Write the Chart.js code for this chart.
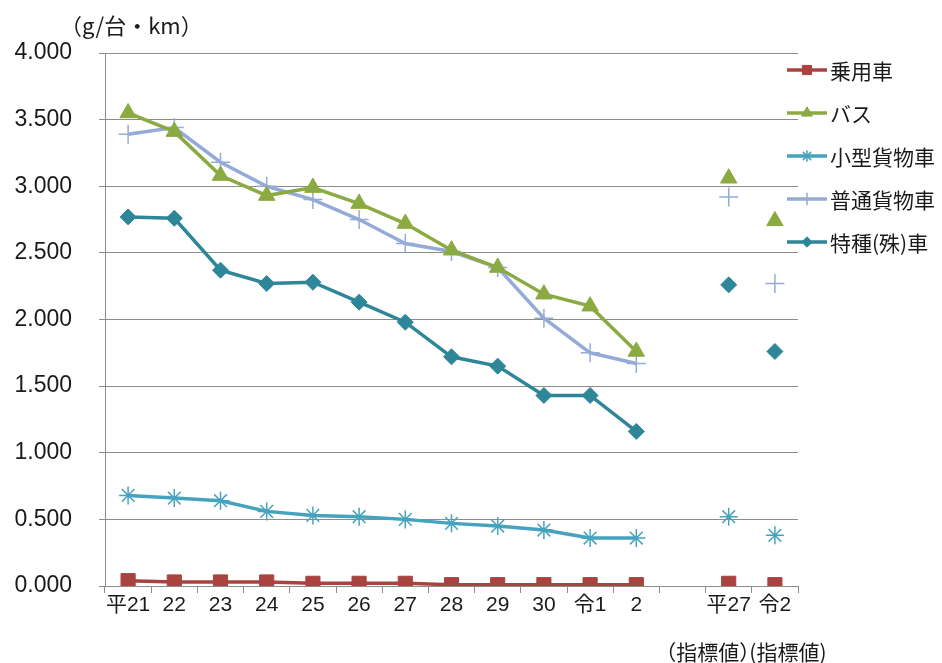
<!DOCTYPE html>
<html>
<head>
<meta charset="utf-8">
<script src="https://cdn.jsdelivr.net/npm/chart.js@4/dist/chart.umd.min.js"></script>
<style>
  html, body { margin: 0; padding: 0; background: #fff; }
</style>
</head>
<body>
<canvas id="grafik" width="942" height="663"></canvas>
<script>
// --- DATA ---
const nendo = ['平21', '22', '23', '24', '25', '26', '27', '28', '29', '30', '令1', '2', '', '平27', '令2'];
const shitei = ['（指標値）', '(指標値)'];
const yTicks = [0, 0.5, 1, 1.5, 2, 2.5, 3, 3.5, 4];

const jouyousha = [0.04, 0.03, 0.03, 0.03, 0.02, 0.02, 0.02, 0.01, 0.01, 0.01, 0.01, 0.01, null, 0.02, 0.01];
const basu      = [3.55, 3.41, 3.08, 2.93, 2.99, 2.87, 2.72, 2.52, 2.39, 2.19, 2.10, 1.76, null, 3.06, 2.74];
const kogata    = [0.68, 0.66, 0.64, 0.56, 0.53, 0.52, 0.50, 0.47, 0.45, 0.42, 0.36, 0.36, null, 0.52, 0.38];
const futsuu    = [3.39, 3.44, 3.18, 3.00, 2.90, 2.75, 2.57, 2.51, 2.39, 2.01, 1.75, 1.67, null, 2.92, 2.27];
const tokushu   = [2.77, 2.76, 2.37, 2.27, 2.28, 2.13, 1.98, 1.72, 1.65, 1.43, 1.43, 1.16, null, 2.26, 1.76];

const FONT = '"Liberation Sans", "Noto Sans CJK JP", sans-serif';
const CJK = '"Noto Sans CJK JP", "Liberation Sans", sans-serif';

// indicator points (平27 / 令2) are not joined by a line
const kesu = ctx => ctx.p0DataIndex >= 12 ? 'rgba(0,0,0,0)' : undefined;

function seri(label, data, renk, stil, r, bw) {
    return {
        label, data,
        borderColor: renk, backgroundColor: renk,
        pointBackgroundColor: renk, pointBorderColor: renk,
        pointStyle: stil, pointRadius: r, pointHoverRadius: r,
        pointBorderWidth: bw, borderWidth: 3.5, tension: 0,
        spanGaps: false, segment: { borderColor: kesu }
    };
}

const datasets = [
    seri('乗用車', jouyousha, '#A9433F', 'rect', 10, 1),
    seri('バス', basu, '#8CAA42', 'triangle', 9.5, 1),
    seri('小型貨物車', kogata, '#45A3BD', 'star', 9, 1.5),
    seri('普通貨物車', futsuu, '#95ABD7', 'cross', 9.5, 1.5),
    seri('特種(殊)車', tokushu, '#2E8699', 'rectRot', 8, 1)
];

// legend, unit label and the second line under the indicator categories
const ekYazi = {
    id: 'ekYazi',
    afterDraw(chart) {
        const c = chart.ctx;
        c.save();
        c.fillStyle = '#1a1a1a';
        c.textBaseline = 'middle';
        c.font = '22px ' + CJK;
        c.textAlign = 'left';
        c.fillText('（g/台・km）', 60, 26);

        const x = chart.scales.x;
        c.font = '21px ' + CJK;
        c.textAlign = 'center';
        c.fillText(shitei[0], x.getPixelForValue(13) - 21, 652);
        c.fillText(shitei[1], x.getPixelForValue(14) + 13, 652);

        chart.data.datasets.forEach((ds, i) => {
            const y = 70 + i * 43;
            c.strokeStyle = ds.borderColor;
            c.lineWidth = 3.5;
            c.beginPath();
            c.moveTo(787, y);
            c.lineTo(827, y);
            c.stroke();
            c.fillStyle = ds.backgroundColor;
            c.lineWidth = ds.pointBorderWidth;
            Chart.helpers.drawPoint(c, { pointStyle: ds.pointStyle, radius: ds.pointRadius * 0.65, borderWidth: ds.pointBorderWidth }, 807, y);
            c.fillStyle = '#1a1a1a';
            c.textAlign = 'left';
            c.font = '21px ' + CJK;
            c.fillText(ds.label, 830, y + 1);
        });
        c.restore();
    }
};

new Chart(document.getElementById('grafik'), {
    type: 'line',
    data: { labels: nendo, datasets },
    options: {
        responsive: false,
        animation: false,
        layout: { padding: { top: 53, right: 144, left: 0, bottom: 0 } },
        plugins: { legend: { display: false }, tooltip: { enabled: false } },
        scales: {
            x: {
                offset: true,
                grid: { offset: true, drawOnChartArea: false, drawTicks: true, tickLength: 7, color: '#8c8c8c' },
                border: { color: '#8c8c8c' },
                ticks: { color: '#1a1a1a', font: { size: 21, family: FONT }, padding: 0, maxRotation: 0, autoSkip: false },
                afterFit(s) { s.height = 77; }
            },
            y: {
                min: 0, max: 4,
                afterBuildTicks(s) { s.ticks = yTicks.map(v => ({ value: v })); },
                grid: { color: '#8c8c8c', tickLength: 6 },
                border: { color: '#8c8c8c' },
                ticks: {
                    color: '#1a1a1a', font: { size: 23, family: FONT }, padding: 27,
                    callback: v => v.toFixed(3)
                },
                afterFit(s) { s.width = 105; }
            }
        }
    },
    plugins: [ekYazi]
});
</script>
</body>
</html>
